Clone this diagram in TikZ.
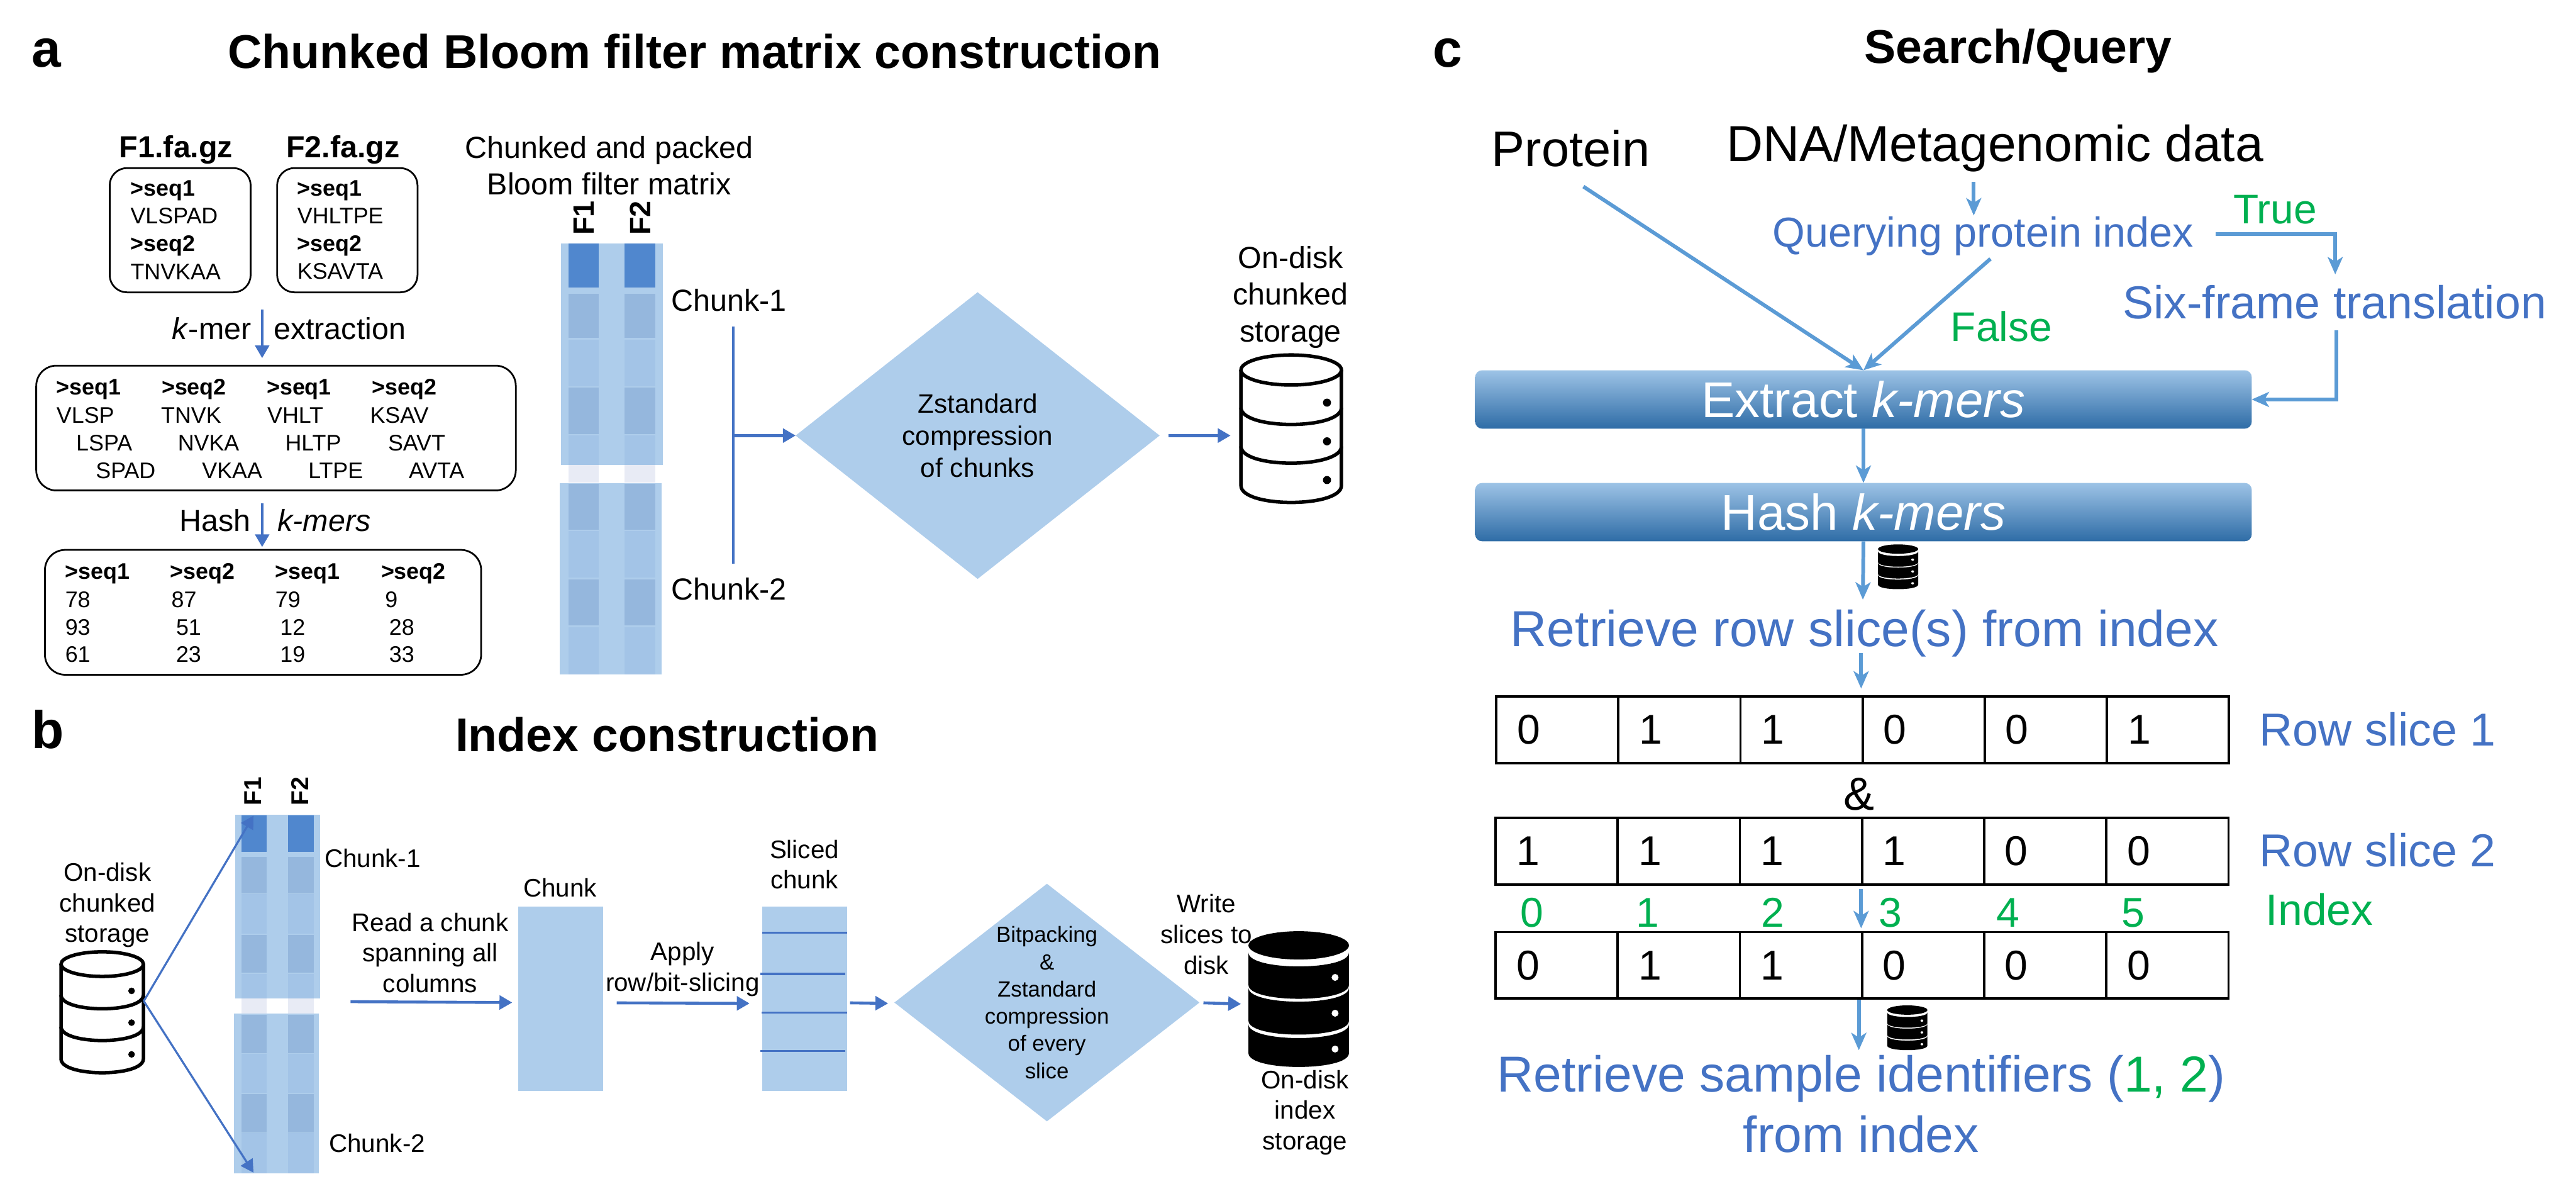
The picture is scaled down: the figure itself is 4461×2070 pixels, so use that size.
\documentclass[tikz,border=0pt]{standalone}
\usepackage{fontspec}
\setmainfont{Liberation Sans}
\usetikzlibrary{positioning,arrows.meta,shapes.geometric,calc}
\definecolor{rowblue}{HTML}{4472C4}
\definecolor{flowblue}{HTML}{5B9BD5}
\definecolor{yesgreen}{HTML}{00B050}
\definecolor{fillblue}{HTML}{AECDEB}
\definecolor{cellmidc}{HTML}{95B7DD}
\definecolor{celllightc}{HTML}{A3C4E7}
\definecolor{cellpalec}{HTML}{E8EBF5}
\definecolor{celldarkc}{HTML}{5087CE}
\definecolor{bartop}{HTML}{9DC3E6}
\definecolor{barbottom}{HTML}{2E6CA6}
\tikzset{
plain/.style={inner sep=0,outer sep=0,anchor=base},
block/.style={inner sep=0,outer sep=0,align=center},
titletext/.style={plain,font=\bfseries\fontsize{23.3}{28}\selectfont},
paneltext/.style={plain,anchor=base west,font=\bfseries\fontsize{26}{30}\selectfont},
headtext/.style={plain,font=\bfseries\fontsize{15}{18}\selectfont},
midtext/.style={plain,font=\fontsize{15}{18}\selectfont},
midblock/.style={block,font=\fontsize{15}{18}\selectfont},
smalltext/.style={plain,font=\fontsize{12.5}{15}\selectfont},
smallblock/.style={block,font=\fontsize{12.5}{15.1}\selectfont},
seqtext/.style={plain,anchor=base west,font=\fontsize{11.1}{13.7}\selectfont},
seqhead/.style={seqtext,font=\bfseries\fontsize{11.1}{13.7}\selectfont},
seqbox/.style={draw,rounded corners=.3cm,line width=.03cm,inner sep=0,outer sep=0},
colname/.style={inner sep=0,rotate=90,anchor=west,font=\bfseries\fontsize{14.5}{16}\selectfont},
colnamesmall/.style={colname,font=\bfseries\fontsize{12}{14}\selectfont},
zdiamond/.style={diamond,fill=fillblue,inner sep=-.2cm,outer sep=0,align=center},
fillbox/.style={fill=fillblue,inner sep=0,outer sep=0},
arrow/.style={-{Triangle[length=2.2mm,width=2.4mm]},line width=.05cm,rowblue},
flowarrow/.style={-{Stealth[length=3mm,width=2.6mm,inset=.8mm]},line width=.065cm,flowblue},
bitcell/.style={draw,line width=.04cm,minimum height=1.15cm,minimum width=2.115cm,inner xsep=.36cm,inner ysep=0,outer sep=0,text width=1.395cm,align=left,font=\fontsize{20.5}{24}\selectfont},
kmerbar/.style={rounded corners=.12cm,minimum width=13.44cm,minimum height=1.01cm,inner sep=0,outer sep=0,top color=bartop,middle color=flowblue,bottom color=barbottom,text=white,font=\fontsize{24.75}{29}\selectfont},
bluetext/.style={plain,text=rowblue,font=\fontsize{#1}{#1}\selectfont},
greentext/.style={plain,text=yesgreen,font=\fontsize{#1}{#1}\selectfont},
celldark/.style={fill=celldarkc},
cellmid/.style={fill=cellmidc},
celllight/.style={fill=celllightc},
cellpale/.style={fill=cellpalec},
dbopen/.pic={
\draw[line width=.06cm,fill=white] (-87,-100) -- (-87,100) .. controls (-87,139) and (87,139) .. (87,100) -- (87,-100);
\draw[line width=.06cm] (-87,-35) .. controls (-87,4) and (87,4) .. (87,-35);
\draw[line width=.06cm] (-87,32) .. controls (-87,71) and (87,71) .. (87,32);
\draw[line width=.06cm,fill=white] (0,-100) ellipse [x radius=87,y radius=26];
\foreach \dy in {-43.5,23.5,90.5}
\fill (62,\dy) circle [radius=7];
},
dbsolid/.pic={
\fill (0,-92.5) ellipse [x radius=87,y radius=24.5];
\foreach \a/\h in {-80/56,-19/57,44/50}{
\fill (-87,\a) .. controls (-87,\a+32) and (87,\a+32) .. (87,\a) -- (87,\a+\h) .. controls (87,\a+\h+32) and (-87,\a+\h+32) .. (-87,\a+\h) -- cycle;
}
\foreach \dy in {-37,25,87}
\fill[white] (63,\dy) circle [radius=6];
}
}
\begin{document}
\begin{tikzpicture}[x=.01cm,y=-.01cm]
\useasboundingbox (0,0) rectangle (4461,2070);

\node[paneltext](panela) at (55,116){a};
\node[titletext](titlea) at (1203,118){Chunked Bloom filter matrix construction};
\node[headtext](fileone) at (305,273){F1.fa.gz};
\node[headtext](filetwo) at (594,273){F2.fa.gz};
\node[seqbox,minimum width=2.44cm,minimum height=2.15cm](fastaone) at (312,398.5){};
\node[seqbox,minimum width=2.43cm,minimum height=2.15cm](fastatwo) at (601.5,398.5){};
\node[seqtext,anchor=west,align=left](seqsone) at (226,398){\textbf{>seq1}\\VLSPAD\\\textbf{>seq2}\\TNVKAA};
\node[seqtext,anchor=west,align=left](seqstwo) at (515,398){\textbf{>seq1}\\VHLTPE\\\textbf{>seq2}\\KSAVTA};
\node[midtext,anchor=base west](kmerleft) at (298,588){\textit{k}-mer};
\node[midtext,anchor=base west](kmerright) at (474,588){extraction};
\coordinate (kmerin) at (454,536);
\coordinate (kmerout) at (454,620);
\draw[arrow](kmerin)--(kmerout);
\node[seqbox,rounded corners=.35cm,minimum width=8.3cm,minimum height=2.16cm](kmerbox) at (478,741){};
\foreach \hx/\ax/\bx/\cx/\h/\p/\q/\r [count=\i] in {98/98/132/166/>seq1/VLSP/LSPA/SPAD,280/279/308/350/>seq2/TNVK/NVKA/VKAA,462/463/494/534/>seq1/VHLT/HLTP/LTPE,644/641/672/708/>seq2/KSAV/SAVT/AVTA}{
\node[seqhead](kh\i) at (\hx,683){\h};
\node[seqtext](ka\i) at (\ax,732){\p};
\node[seqtext](kb\i) at (\bx,780){\q};
\node[seqtext](kc\i) at (\cx,828){\r};
}
\node[midtext,anchor=base west](hashleft) at (311,920){Hash};
\node[midtext,anchor=base west](hashright) at (481,920){\textit{k-mers}};
\coordinate (hashin) at (454,871);
\coordinate (hashout) at (454,947);
\draw[arrow](hashin)--(hashout);
\node[seqbox,rounded corners=.35cm,minimum width=7.55cm,minimum height=2.16cm](hashbox) at (455.5,1060){};
\foreach \hx/\ax/\bx/\cx/\h/\p/\q/\r [count=\i] in {113/113/113/113/>seq1/78/93/61,295/297/305/305/>seq2/87/51/23,477/477/485/485/>seq1/79/12/19,660/667/674/674/>seq2/9/28/33}{
\node[seqhead](hh\i) at (\hx,1002){\h};
\node[seqtext](ha\i) at (\ax,1051){\p};
\node[seqtext](hb\i) at (\bx,1099){\q};
\node[seqtext](hc\i) at (\cx,1146){\r};
}
\node[midblock](matrixname) at (1055,286.5){Chunked and packed\\Bloom filter matrix};
\node[colname](colaone) at (1011,408){F1};
\node[colname](colatwo) at (1109,408){F2};
\fill[fillblue] (972,421) rectangle (1148,805);
\fill[fillblue] (969,836) rectangle (1146,1167);
\foreach \cl/\cr in {985/1037,1082/1135}{
\foreach \ct/\cb/\cs in {422/498/celldark,509/585/cellmid,588/669/celllight,671/751/cellmid,754/805/celllight,805/835/cellpale,838/917/cellmid,919/1000/celllight,1003/1083/cellmid,1086/1167/celllight}
\path[\cs] (\cl,\ct) rectangle (\cr,\cb);
}
\node[midtext,anchor=base west](chunkone) at (1163,539){Chunk-1};
\node[midtext,anchor=base west](chunktwo) at (1163,1039){Chunk-2};
\node[zdiamond,aspect=1.27,minimum width=6.3cm,minimum height=4.96cm,font=\fontsize{13.1}{15.9}\selectfont](zstda) at (1693,754){Zstandard\\compression\\of chunks};
\coordinate (joinup) at (1270,565);
\coordinate (joindown) at (1270,976);
\draw[line width=.04cm,rowblue](joinup)--(joindown);
\draw[arrow](joinup|-zstda.west)--(zstda.west);
\coordinate (zstdaout) at (2023,754);
\coordinate (diskain) at (2131,754);
\draw[arrow](zstdaout)--(diskain);
\node[midblock](diskaname) at (2235,514.5){On-disk\\chunked\\storage};
\pic (diska) at (2236,740.5) {dbopen};

\node[paneltext](panelb) at (55,1295){b};
\node[titletext](titleb) at (1155,1301){Index construction};
\node[smallblock](diskbname) at (186,1567){On-disk\\chunked\\storage};
\pic[scale=.82] (diskb) at (177,1751) {dbopen};
\node[colnamesmall](colbone) at (438,1395){F1};
\node[colnamesmall](colbtwo) at (519,1395){F2};
\fill[fillblue] (407,1410) rectangle (554,1728);
\fill[fillblue] (405,1755) rectangle (552,2031);
\foreach \cl/\cr in {418/462,499/543}{
\foreach \ct/\cb/\cs in {1411/1475/celldark,1483/1547/cellmid,1548/1616/celllight,1618/1684/cellmid,1686/1728/celllight,1728/1754/cellpale,1757/1823/cellmid,1824/1892/celllight,1894/1960/cellmid,1962/2031/celllight}
\path[\cs] (\cl,\ct) rectangle (\cr,\cb);
}
\coordinate (diskbout) at (249,1733);
\coordinate (chunkin) at (439,1412);
\coordinate (chunkend) at (439,2030);
\draw[arrow,line width=.035cm](diskbout)--(chunkin);
\draw[arrow,line width=.035cm](diskbout)--(chunkend);
\node[smalltext,anchor=base west](chunkbone) at (562,1501){Chunk-1};
\node[smalltext,anchor=base west](chunkbtwo) at (570,1995){Chunk-2};
\node[smallblock](readname) at (745,1649.5){Read a chunk\\spanning all\\columns};
\node[fillbox,minimum width=1.47cm,minimum height=3.19cm](chunkrect) at (970.5,1728.5){};
\node[smalltext](chunkname) at (970,1552){Chunk};
\coordinate (readout) at (607,1734);
\coordinate (chunkrectin) at (887,1735.5);
\draw[arrow](readout)--(chunkrectin);
\node[smallblock](applyname) at (1182,1678){Apply\\row/bit-slicing};
\node[fillbox,minimum width=1.47cm,minimum height=3.19cm](slicedrect) at (1393.5,1728.5){};
\node[smallblock](slicedname) at (1393,1496.5){Sliced\\chunk};
\coordinate (applyout) at (1068,1736);
\coordinate (applyin) at (1298,1737);
\draw[arrow](applyout)--(applyin);
\foreach \sy/\sl/\sr in {1615/1320/1467,1686/1317/1464,1753/1319/1467,1819/1317/1464}
\draw[line width=.035cm,rowblue](\sl,\sy)--(\sr,\sy);
\node[zdiamond,aspect=1.28,minimum width=5.28cm,minimum height=4.11cm,font=\fontsize{10.8}{13.4}\selectfont](zstdb) at (1813,1735.5){Bitpacking\\\&\\Zstandard\\compression\\of every\\slice};
\coordinate (slicedout) at (1472,1736);
\coordinate (slicedin) at (1538,1737);
\draw[arrow](slicedout)--(slicedin);
\coordinate (zstdbout) at (2084,1736);
\coordinate (diskcin) at (2149,1738);
\draw[arrow](zstdbout)--(diskcin);
\node[smallblock](writename) at (2089,1617.5){Write\\slices to\\disk};
\pic (diskc) at (2249,1729) {dbsolid};
\node[smallblock](diskcname) at (2260,1926){On-disk\\index\\storage};

\node[paneltext](panelc) at (2482,116){c};
\node[titletext](titlec) at (3495,109){Search/Query};
\node[plain,font=\fontsize{24.6}{29}\selectfont](protein) at (2720,288){Protein};
\node[plain,font=\fontsize{24.9}{30}\selectfont](dnadata) at (3455,279){DNA/Metagenomic data};
\node[bluetext=20.6](querying) at (3434,428){Querying protein index};
\node[greentext=20.4](truename) at (3940,387){True};
\node[greentext=20.4](falsename) at (3466,591){False};
\node[bluetext=22.75](sixframe) at (4043,552){Six-frame translation};
\node[kmerbar](extract) at (3227,691.5){Extract \textit{k-mers}};
\node[kmerbar](hash) at (3227,886.5){Hash \textit{k-mers}};
\coordinate (dnaout) at (3418,315);
\coordinate (queryin) at (3418,373);
\draw[flowarrow](dnaout)--(queryin);
\coordinate (proteinout) at (2742,323);
\coordinate (queryout) at (3447,448);
\draw[flowarrow](proteinout)--(extract.north);
\draw[flowarrow](queryout)--(extract.north);
\coordinate (trueout) at (3837,405);
\coordinate (sixin) at (4044,475);
\draw[flowarrow](trueout)-|(sixin);
\coordinate (sixout) at (4046,572);
\draw[flowarrow](sixout)|-(extract.east);
\draw[flowarrow](extract.south)--(hash.north);
\coordinate (retrievein) at (3226,1038);
\draw[flowarrow](hash.south)--(retrievein);
\pic[xscale=.4,yscale=.33] (dbsmallone) at (3287,981) {dbsolid};
\node[bluetext=24.9](retrieve) at (3229,1119){Retrieve row slice(s) from index};
\foreach \r/\cy/\cx/\bits in {rowa/1263.5/2591/{0,1,1,0,0,1},rowb/1473.5/2590/{1,1,1,1,0,0},rowc/1671/2590/{0,1,1,0,0,0}}{
\foreach \d [count=\i from 0] in \bits
\node[bitcell](\r\i) at ({\cx+105.75+\i*211.5},\cy){\d};
}
\coordinate (retrieveout) at (3223,1130);
\coordinate (rowain) at (3223,1192);
\draw[flowarrow](retrieveout)--(rowain);
\node[bluetext=22.75,anchor=base west](sliceone) at (3913,1291){Row slice 1};
\node[bluetext=22.75,anchor=base west](slicetwo) at (3913,1500){Row slice 2};
\node[plain,font=\fontsize{22.75}{27}\selectfont](andsign) at (3219,1402){\&};
\foreach \n/\ix in {0/2653,1/2853,2/3070,3/3274,4/3477,5/3694}
\node[greentext=20.5](idx\n) at (\ix,1605){\n};
\node[greentext=21.6,anchor=base west](indexname) at (3924,1601){Index};
\coordinate (andout) at (3223,1539);
\coordinate (rowcin) at (3223,1607);
\draw[flowarrow](andout)--(rowcin);
\coordinate (rowcout) at (3219,1731);
\coordinate (sampleout) at (3219,1818);
\draw[flowarrow](rowcout)--(sampleout);
\pic[xscale=.4,yscale=.33] (dbsmalltwo) at (3303,1779) {dbsolid};
\node[block,text=rowblue,font=\fontsize{24.9}{29.6}\selectfont](samples) at (3223,1911){Retrieve sample identifiers (\textcolor{yesgreen}{1, 2})\\from index};
\end{tikzpicture}
\end{document}
